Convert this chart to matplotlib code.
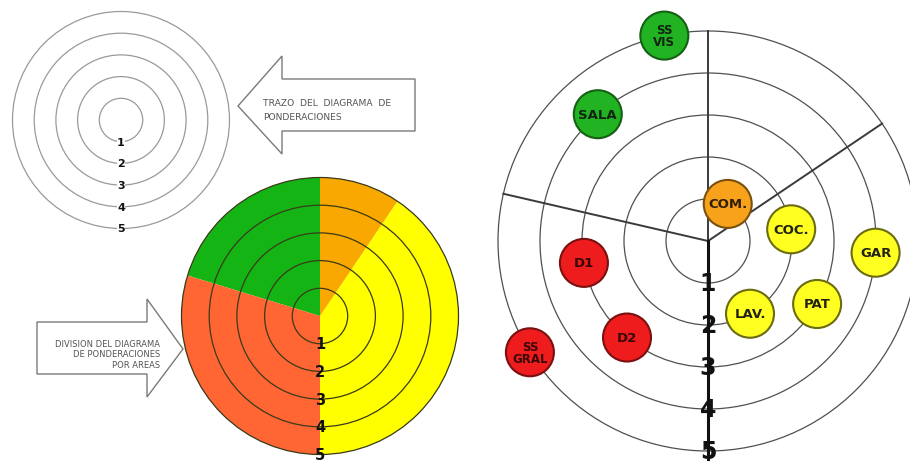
import numpy as np
from matplotlib import pyplot as plt
from matplotlib.patches import Circle, Wedge, Polygon

# anillos (ponderaciones 1..5)
rings = [1, 2, 3, 4, 5]

# division del diagrama por areas (grados)
area_names = ['verde', 'rojo', 'amarillo', 'naranja']
area_start = [90, 163, -90, 56]
area_end = [163, 270, 56, 90]
area_fill = ['#14b414', '#ff6633', '#ffff00', '#f9a800']

# diagrama final: lineas de division y locales
div_angles = [90, 34, 167]
rooms = ['SS\nVIS', 'SALA', 'COM.', 'COC.', 'GAR', 'LAV.', 'PAT', 'D1', 'D2', 'SS\nGRAL']
room_ring = [5, 4, 1, 2, 4, 2, 3, 3, 3, 5]
room_angle = [102, 131, 62, 8, -4, -60, -30, 190, 230, 212]
room_area = ['verde', 'verde', 'naranja', 'amarillo', 'amarillo', 'amarillo',
             'amarillo', 'rojo', 'rojo', 'rojo']
bubble_fill = {'verde': '#22b322', 'rojo': '#ee1c1c', 'amarillo': '#ffff22', 'naranja': '#f7a21a'}
bubble_edge = {'verde': '#156015', 'rojo': '#7a1010', 'amarillo': '#6b6b10', 'naranja': '#7a5010'}
bubble_text = {'verde': '#102410', 'rojo': '#3a0606', 'amarillo': '#222210', 'naranja': '#332006'}


def polar(cx, cy, r, ang):
    a = np.radians(ang)
    return cx + r * np.cos(a), cy - r * np.sin(a)


fig = plt.figure(figsize=(9.1, 4.64), dpi=100)
ax = fig.add_axes([0, 0, 1, 1])
ax.set_xlim(0, 910)
ax.set_ylim(464, 0)
ax.axis('off')

# --- trazo del diagrama (arriba izquierda)
cx, cy, step = 121, 121, 21.7
for k in rings:
    ax.add_patch(Circle((cx, cy), k * step, fill=False, ec='#9a9a9a', lw=0.9))
    ax.text(cx, cy + k * step, str(k), ha='center', va='center', fontsize=8,
            fontweight='bold', color='#111111',
            bbox=dict(fc='white', ec='none', pad=0.3))

ax.add_patch(Polygon([(238, 107), (282, 57), (282, 80), (415, 80), (415, 132),
                      (282, 132), (282, 155)], closed=True, fc='white', ec='#7a7a7a', lw=1))
ax.text(263, 103, 'TRAZO  DEL  DIAGRAMA  DE', ha='left', va='center', fontsize=6.6, color='#555555')
ax.text(263, 117, 'PONDERACIONES', ha='left', va='center', fontsize=6.6, color='#555555')

# --- division por areas (abajo izquierda)
px, py, pstep = 320, 317, 27.7
for name, a0, a1, col in zip(area_names, area_start, area_end, area_fill):
    ax.add_patch(Wedge((px, py), 5 * pstep, -a1, -a0, fc=col, ec='none'))
for k in rings:
    ax.add_patch(Circle((px, py), k * pstep, fill=False, ec='#3a3a1a', lw=0.9))
    ax.text(px, py + k * pstep, str(k), ha='center', va='center', fontsize=10.5,
            fontweight='bold', color='#111111')

ax.add_patch(Polygon([(37, 323), (147, 323), (147, 300), (183, 350), (147, 398),
                      (147, 375), (37, 375)], closed=True, fc='white', ec='#7a7a7a', lw=1))
ax.text(160, 355, 'DIVISION DEL DIAGRAMA\nDE PONDERACIONES\nPOR AREAS', ha='right', va='center',
        multialignment='right', fontsize=6, color='#555555', linespacing=1.2)

# --- diagrama de ponderaciones (derecha)
rx, ry, rstep = 708, 242, 42
for k in rings:
    ax.add_patch(Circle((rx, ry), k * rstep, fill=False, ec='#505050', lw=0.9, zorder=2))
for a in div_angles:
    x1, y1 = polar(rx, ry, 5 * rstep, a)
    ax.plot([rx, x1], [ry, y1], color='#3a3a3a', lw=1.4, zorder=2)
ax.plot([rx, rx], [ry, ry + 5 * rstep + 8], color='#111111', lw=2.2, zorder=2)

for name, k, a, ar in zip(rooms, room_ring, room_angle, room_area):
    bx, by = polar(rx, ry, k * rstep, a)
    ax.add_patch(Circle((bx, by), 24, fc=bubble_fill[ar], ec=bubble_edge[ar], lw=1.5, zorder=3))
    fs = 8.5 if '\n' in name else 9.5
    ax.text(bx, by, name, ha='center', va='center', fontsize=fs, fontweight='bold',
            color=bubble_text[ar], linespacing=0.95, zorder=4)

for k in rings:
    ax.text(rx, ry + k * rstep, str(k), ha='center', va='center', fontsize=17,
            fontweight='bold', color='#111111', zorder=5)

fig.savefig('out.png', dpi=100)
